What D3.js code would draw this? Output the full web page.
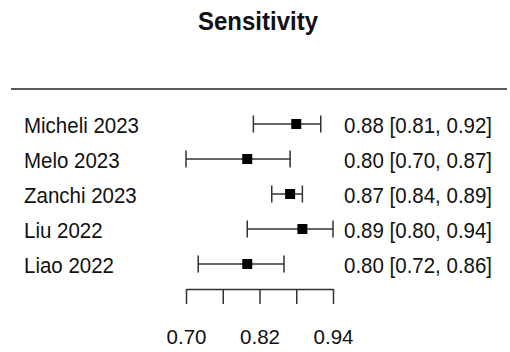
<!DOCTYPE html>
<html>
<head>
<meta charset="utf-8">
<script src="https://cdn.jsdelivr.net/npm/d3@7"></script>
<style>
  body { margin: 0; background: #fff; }
  text { font-family: "Liberation Sans", Arial, sans-serif; fill: #111; }
</style>
</head>
<body>
<svg id="chart" width="510" height="352"></svg>
<script>
// Data
var studies = ["Micheli 2023", "Melo 2023", "Zanchi 2023", "Liu 2022", "Liao 2022"];
var estimates = [0.88, 0.80, 0.87, 0.89, 0.80];
var lower = [0.81, 0.70, 0.84, 0.80, 0.72];
var upper = [0.92, 0.87, 0.89, 0.94, 0.86];
var tickValues = [0.70, 0.76, 0.82, 0.88, 0.94];
var tickLabels = ["0.70", "", "0.82", "", "0.94"];

var svg = d3.select("#chart");

// scales
const x = d3.scaleLinear().domain([0.70, 0.94]).range([186, 333]);
const y = d3.scalePoint().domain(studies).range([124, 264]);

// title (text in the original is a bit stretched vertically)
svg.append("text")
  .attr("transform", "translate(258,30) scale(1,1.1)")
  .attr("text-anchor", "middle")
  .style("font-size", "24px")
  .style("font-weight", "bold")
  .text("Sensitivity");

// top rule
svg.append("line")
  .attr("x1", 11).attr("x2", 507)
  .attr("y1", 89).attr("y2", 89)
  .attr("stroke", "#222").attr("stroke-width", 1.5);

var rows = svg.selectAll("g.row")
  .data(studies)
  .enter()
  .append("g")
  .attr("class", "row")
  .attr("transform", d => `translate(0,${y(d)})`);

rows.append("text")
  .attr("transform", "translate(24,8.5) scale(1,1.1)")
  .style("font-size", "20.5px")
  .text(d => d);

rows.append("line")
  .attr("x1", (d, i) => x(lower[i]))
  .attr("x2", (d, i) => x(upper[i]))
  .attr("stroke", "#333").attr("stroke-width", 1.5);

rows.append("line")
  .attr("x1", (d, i) => x(lower[i]))
  .attr("x2", (d, i) => x(lower[i]))
  .attr("y1", -8.5).attr("y2", 8.5)
  .attr("stroke", "#333").attr("stroke-width", 1.5);

rows.append("line")
  .attr("x1", (d, i) => x(upper[i]))
  .attr("x2", (d, i) => x(upper[i]))
  .attr("y1", -8.5).attr("y2", 8.5)
  .attr("stroke", "#333").attr("stroke-width", 1.5);

rows.append("rect")
  .attr("x", (d, i) => x(estimates[i]) - 5)
  .attr("y", -5)
  .attr("width", 10).attr("height", 10)
  .attr("fill", "#000");

rows.append("text")
  .attr("transform", "translate(344,8.5) scale(1,1.1)")
  .style("font-size", "20.5px")
  .text((d, i) => `${estimates[i].toFixed(2)} [${lower[i].toFixed(2)}, ${upper[i].toFixed(2)}]`);

// bottom axis (ticks hang downward)
const xaxis = d3.axisBottom(x)
  .tickValues(tickValues)
  .tickSize(15)
  .tickSizeOuter(0)
  .tickPadding(25)
  .tickFormat((d, i) => tickLabels[i]);

var ax = svg.append("g")
  .attr("transform", "translate(0,289)")
  .call(xaxis);

ax.select(".domain").attr("stroke", "#333").attr("stroke-width", 1.5);
ax.selectAll(".tick line").attr("stroke", "#333").attr("stroke-width", 1.5);
ax.selectAll(".tick text")
  .style("font-family", "Liberation Sans, Arial, sans-serif")
  .style("font-size", "20.5px")
  .attr("fill", "#111");
</script>
</body>
</html>
